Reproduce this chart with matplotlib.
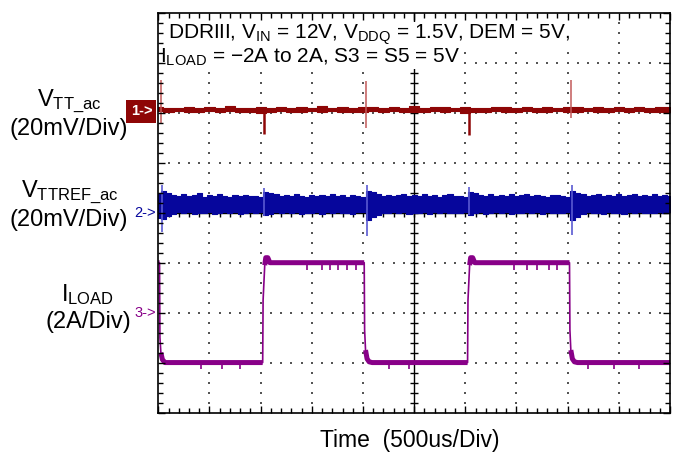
import numpy as np
import matplotlib.pyplot as plt
from matplotlib import transforms

plt.rcParams['font.family'] = ['Liberation Sans', 'DejaVu Sans']
plt.rcParams['mathtext.fontset'] = 'custom'
plt.rcParams['mathtext.rm'] = 'Liberation Sans'
plt.rcParams['mathtext.it'] = 'Liberation Sans'

# ---- data (time in ms, 500us/div; ch1/ch2 in mV, ch3 in A) ----
# channel 1: VTT_ac noise envelope, sampled every 0.1 ms
ch1_t = np.arange(51) * 0.1
ch1_hi = [1.3, 1.1, 0.9, 1.5, 1.0, 1.2, 0.8, 1.6, 1.1, 0.9,
          1.3, 1.0, 1.2, 0.9, 1.4, 1.1, 1.7, 1.0, 1.2, 0.9,
          1.3, 1.5, 1.1, 1.2, 1.0, 1.6, 0.9, 1.2, 1.3, 1.0,
          1.4, 1.1, 0.9, 1.2, 1.5, 1.0, 1.2, 0.9, 1.3, 1.1,
          1.2, 1.4, 1.0, 1.2, 0.9, 1.5, 1.1, 1.2, 1.0, 1.3, 1.2]
ch1_lo = [-0.4, -0.7, -0.3, -0.5, -0.8, -0.4, -0.6, -0.3, -0.7, -0.5,
          -0.9, -0.6, -0.4, -0.8, -0.5, -0.3, -0.7, -0.4, -0.6, -0.5,
          -0.8, -0.4, -0.7, -0.3, -0.6, -0.5, -0.8, -0.4, -0.6, -0.3,
          -0.9, -0.5, -0.7, -0.4, -0.6, -0.8, -0.3, -0.5, -0.7, -0.4,
          -0.8, -0.6, -0.4, -0.7, -0.5, -0.3, -0.8, -0.4, -0.6, -0.5, -0.7]
ch1_spike_t = [0.023, 1.033, 2.027, 3.034, 4.03]
ch1_spike_hi = [12.2, 1.5, 11.8, 1.5, 12.0]
ch1_spike_lo = [-5.4, -9.4, -6.9, -9.8, -3.0]

# channel 2: VTTREF_ac noise envelope, sampled every 0.05 ms
ch2_t = np.arange(101) * 0.05
ch2_hi = [8.0, 8.6, 7.8, 7.2, 6.8, 7.6, 6.6, 7.0, 7.8, 6.5,
          7.1, 6.7, 7.5, 6.9, 6.4, 7.3, 6.8, 7.0, 6.6, 6.9,
          6.3, 8.4, 8.0, 7.4, 6.8, 7.2, 6.6, 7.6, 6.9, 6.5,
          7.3, 6.8, 7.1, 6.6, 7.4, 6.7, 7.0, 6.5, 7.2, 6.8,
          6.4, 8.8, 8.2, 7.6, 6.9, 7.3, 6.6, 7.1, 7.7, 6.7,
          7.0, 6.6, 7.4, 6.9, 7.2, 6.5, 7.0, 7.5, 6.8, 6.6,
          6.4, 8.3, 7.9, 7.3, 6.9, 7.5, 6.7, 7.1, 6.8, 7.4,
          6.6, 7.0, 7.6, 6.7, 7.2, 6.9, 6.5, 7.3, 7.0, 6.7,
          6.5, 8.8, 8.1, 7.5, 6.8, 7.3, 7.7, 6.6, 7.1, 6.9,
          7.4, 6.7, 7.0, 7.6, 6.8, 7.2, 6.6, 7.5, 6.9, 7.1, 6.8]
ch2_lo = [-2.0, -2.5, -1.5, -0.6, 0.2, -0.3, 0.4, -0.5, 0.1, -0.2,
          0.3, -0.4, 0.0, 0.4, -0.3, 0.2, -0.6, 0.1, 0.3, -0.2,
          0.5, -0.8, -0.4, 0.2, -0.3, 0.3, -0.1, 0.4, -0.5, 0.1,
          -0.2, 0.3, -0.4, 0.2, -0.1, 0.4, -0.3, 0.1, -0.5, 0.2,
          0.3, -3.0, -1.8, -0.8, 0.1, -0.3, 0.4, -0.2, 0.2, -0.4,
          0.1, -0.3, 0.3, -0.5, 0.2, -0.1, 0.4, -0.3, 0.1, -0.2,
          0.4, -0.8, -0.3, 0.2, -0.4, 0.1, 0.3, -0.2, 0.2, -0.5,
          0.1, -0.3, 0.3, -0.1, 0.2, -0.4, 0.3, -0.2, 0.1, -0.3,
          0.2, -3.0, -1.6, -0.7, 0.2, -0.3, 0.1, -0.4, 0.3, -0.2,
          0.1, -0.5, 0.2, -0.1, 0.3, -0.3, 0.1, -0.2, 0.4, -0.1, 0.2]
ch2_spike_t = [0.04, 1.035, 2.035, 3.035, 4.04]
ch2_spike_hi = [11.0, 10.0, 11.2, 10.2, 11.0]
ch2_spike_lo = [-7.8, -1.5, -9.4, -1.0, -9.0]

# channel 3: ILOAD edges and levels
ch3_t = [0.0, 0.012, 0.016, 0.025, 0.04, 0.065,
         1.020, 1.024, 1.04, 1.05, 1.07, 1.09,
         2.012, 2.016, 2.025, 2.04, 2.06, 2.09,
         3.022, 3.026, 3.042, 3.052, 3.072, 3.092,
         4.018, 4.022, 4.031, 4.046, 4.066, 4.096,
         5.0]
ch3_i = [2.0, 2.0, -1.0, -1.6, -1.88, -2.0,
         -2.0, 0.5, 1.9, 2.2, 2.2, 2.0,
         2.0, -0.7, -1.5, -1.85, -1.97, -2.0,
         -2.0, 0.5, 1.9, 2.2, 2.2, 2.0,
         2.0, -0.7, -1.5, -1.85, -1.97, -2.0,
         -2.0]
# small glitches on the flat parts of ILOAD
ch3_glitch_t = [0.42, 0.62, 0.80, 1.45, 1.60, 1.68, 1.76, 1.84, 1.93,
                2.25, 2.45, 3.48, 3.60, 3.70, 3.82, 3.90, 4.20, 4.45, 4.70]
ch3_glitch_from = [-2.0, -2.0, -2.0, 2.0, 2.0, 2.0, 2.0, 2.0, 2.0,
                   -2.0, -2.0, 2.0, 2.0, 2.0, 2.0, 2.0, -2.0, -2.0, -2.0]
ch3_glitch_to = [-2.25, -2.25, -2.25, 1.7, 1.72, 1.7, 1.72, 1.7, 1.72,
                 -2.25, -2.25, 1.7, 1.72, 1.7, 1.72, 1.7, -2.25, -2.25, -2.25]

# channel positions (div from bottom) and scales
ch1_pos, ch1_scale = 6.05, 20.0
ch2_pos, ch2_scale = 4.0, 20.0
ch3_pos, ch3_scale = 2.0, 2.0

c1 = '#8e0606'
c1_light = '#c25a5a'
c2 = '#06069c'
c2_light = '#5a5ad2'
c3 = '#880088'

W, H = 678, 455
fig = plt.figure(figsize=(W / 100, H / 100), dpi=100)
ax = fig.add_axes([158.3 / W, 1 - 412.5 / H, 511.7 / W, 399.5 / H])
ax.set_xlim(0, 5)
ax.set_ylim(0, 8)


def fpos(x, y):  # figure pixel -> figure fraction
    return x / W, 1 - y / H


# dotted graticule
for gx in np.arange(1, 10) * 0.5:
    if gx == 2.5:
        continue
    yy = np.arange(1, 40) * 0.2
    ax.scatter(np.full(yy.shape, gx), yy, s=1.3, marker='s', color='#555555', linewidths=0, zorder=1)
for gy in range(1, 8):
    if gy == 4:
        continue
    xx = np.arange(1, 50) * 0.1
    ax.scatter(xx, np.full(xx.shape, gy), s=1.3, marker='s', color='#555555', linewidths=0, zorder=1)

# center crosshair
ax.axvline(2.5, color='black', lw=1.0, zorder=1.2)
ax.axhline(4, color='black', lw=1.0, zorder=1.2)
yy = np.arange(1, 40) * 0.2
ax.plot(np.full(yy.shape, 2.5), yy, ls='none', marker='_', ms=6, mew=1.0, color='black', zorder=1.2)
xx = np.arange(1, 50) * 0.1
ax.plot(xx, np.full(xx.shape, 4), ls='none', marker='|', ms=6, mew=1.0, color='black', zorder=1.2)

# channel 1
lo1 = ch1_pos + np.array(ch1_lo) / ch1_scale
hi1 = ch1_pos + np.array(ch1_hi) / ch1_scale
ax.fill_between(ch1_t, lo1, hi1, step='mid', color=c1, lw=0.8, zorder=2)
spike_cols = [c1_light, c1, c1_light, c1, c1_light]
spike_lws = [1.1, 1.8, 1.1, 1.8, 1.1]
ax.vlines(ch1_spike_t, ch1_pos + np.array(ch1_spike_lo) / ch1_scale,
          ch1_pos + np.array(ch1_spike_hi) / ch1_scale, colors=spike_cols, lw=spike_lws, zorder=2)

# channel 2
lo2 = ch2_pos + np.array(ch2_lo) / ch2_scale
hi2 = ch2_pos + np.array(ch2_hi) / ch2_scale
ax.fill_between(ch2_t, lo2, hi2, step='mid', color=c2, lw=0.8, zorder=2)
ax.vlines(ch2_spike_t, ch2_pos + np.array(ch2_spike_lo) / ch2_scale,
          ch2_pos + np.array(ch2_spike_hi) / ch2_scale, color=c2_light, lw=1.2, zorder=2)

# channel 3
i3 = np.array(ch3_i)
y3 = ch3_pos + i3 / ch3_scale
ax.plot(ch3_t, y3, color=c3, lw=1.2, zorder=2)
ax.plot(ch3_t, np.ma.masked_where(np.abs(i3) < 1.5, y3), color=c3, lw=3.6,
        solid_capstyle='butt', zorder=2)
ax.vlines(ch3_glitch_t, ch3_pos + np.array(ch3_glitch_from) / ch3_scale,
          ch3_pos + np.array(ch3_glitch_to) / ch3_scale, color=c3, lw=1.2, zorder=2)

# frame and ticks
for sp in ax.spines.values():
    sp.set_linewidth(1.2)
ax.set_axisbelow(False)
ax.set_xticks(np.arange(11) * 0.5)
ax.set_xticks(np.arange(51) * 0.1, minor=True)
ax.set_yticks(np.arange(9))
ax.set_yticks(np.arange(41) * 0.2, minor=True)
ax.tick_params(which='both', direction='in', top=True, right=True,
               labelbottom=False, labelleft=False, width=1.0)
ax.tick_params(which='major', length=5)
ax.tick_params(which='minor', length=3.6)

# channel markers
blend = transforms.blended_transform_factory(ax.transAxes, ax.transData)
ax.text(-0.012, ch1_pos - 0.02, '1->', transform=blend, ha='right', va='center', color='white',
        fontsize=10.5, fontweight='bold', clip_on=False,
        bbox=dict(facecolor=c1, edgecolor='none', pad=3.0))
ax.text(-0.004, ch2_pos, '2->', transform=blend, ha='right', va='center', color=c2,
        fontsize=10.5, clip_on=False)
ax.text(-0.004, ch3_pos, '3->', transform=blend, ha='right', va='center', color=c3,
        fontsize=10.5, clip_on=False)

# conditions box
ax.text(*fpos(168, 39), r'DDRIII, V$_{\mathrm{IN}}$ = 12V, V$_{\mathrm{DDQ}}$ = 1.5V, DEM = 5V,',
        transform=fig.transFigure, fontsize=15, va='baseline', ha='left', zorder=2.4,
        bbox=dict(facecolor='white', edgecolor='none', pad=0.8))
ax.text(*fpos(160, 63), r'I$_{\mathrm{LOAD}}$ = −2A to 2A, S3 = S5 = 5V',
        transform=fig.transFigure, fontsize=15, va='baseline', ha='left', zorder=2.4,
        bbox=dict(facecolor='white', edgecolor='none', pad=0.8))

# channel labels
fig.text(*fpos(69, 106), r'V$_{\mathrm{TT\_ac}}$', fontsize=17, ha='center', va='baseline')
fig.text(*fpos(69, 135), '(20mV/Div)', fontsize=17, ha='center', va='baseline')
fig.text(*fpos(70, 197), r'V$_{\mathrm{TTREF\_ac}}$', fontsize=17, ha='center', va='baseline')
fig.text(*fpos(69, 226), '(20mV/Div)', fontsize=17, ha='center', va='baseline')
fig.text(*fpos(88, 301), r'I$_{\mathrm{LOAD}}$', fontsize=17, ha='center', va='baseline')
fig.text(*fpos(88, 328), '(2A/Div)', fontsize=17, ha='center', va='baseline')

fig.text(*fpos(410, 447), 'Time  (500us/Div)', fontsize=16.5, ha='center', va='baseline')

fig.savefig('out.png', dpi=100)
